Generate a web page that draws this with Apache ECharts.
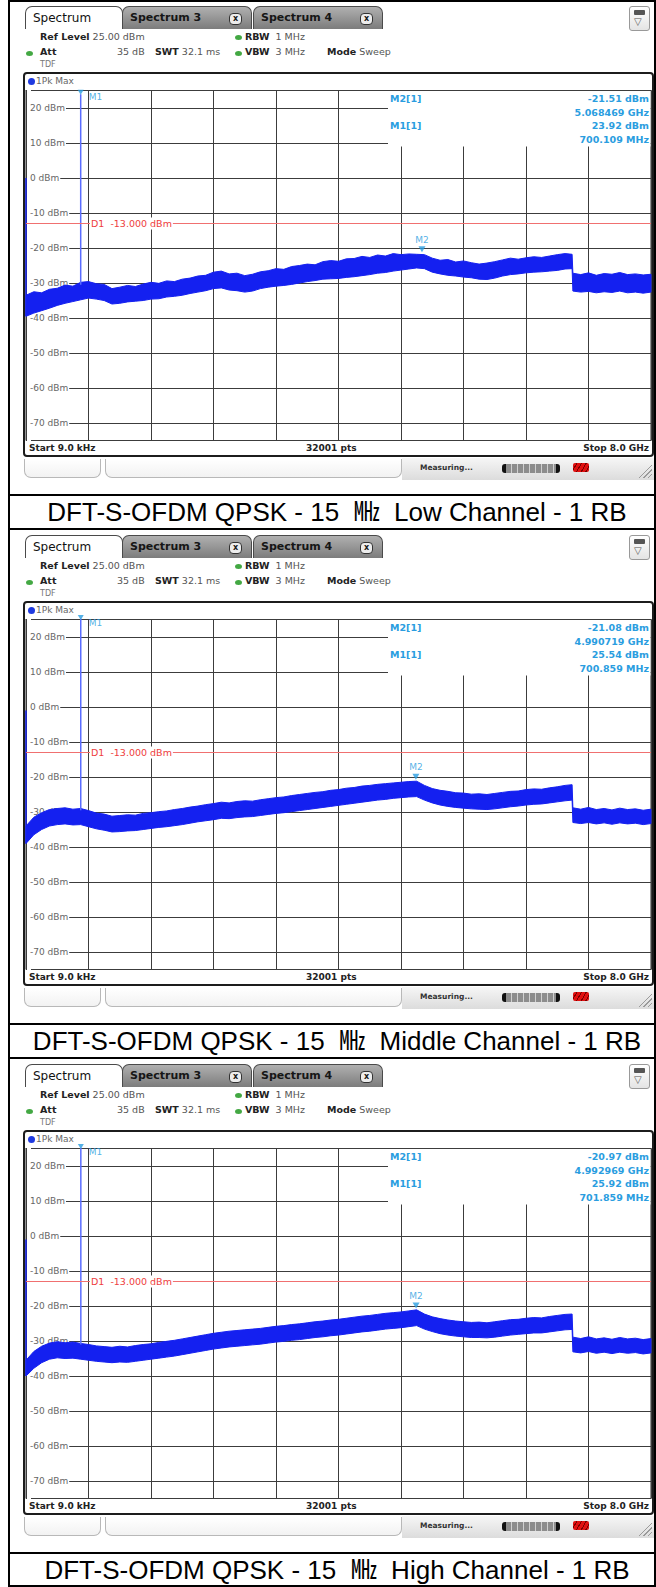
<!DOCTYPE html>
<html lang="en">
<head>
<meta charset="UTF-8">
<title>Conducted spurious emissions</title>
<script src="https://cdn.jsdelivr.net/npm/echarts@6/dist/echarts.min.js"></script>
<style>
    html, body { margin: 0; padding: 0; background: #fff; }
    #page { position: relative; width: 656px; height: 1587px; overflow: hidden; font-family: "DejaVu Sans", sans-serif; }
    #chart { position: absolute; left: 0; top: 0; width: 656px; height: 1587px; z-index: 2; }
    .panel { position: absolute; left: 0; width: 656px; height: 529px; }
    .abs { position: absolute; white-space: nowrap; }
    .tab { position: absolute; top: 6px; height: 23px; box-sizing: border-box; border: 1px solid #4a4a4a; border-bottom: none;
           border-radius: 7px 7px 0 0; line-height: 22px; font-size: 12px; padding-left: 7px; color: #111; }
    .tab.on { left: 25px; width: 98px; background: #fff; }
    .tab.off { width: 130px; background: linear-gradient(#b0b0b0, #7c7c7c); font-weight: bold; font-size: 11px; color: #161616; }
    .tab .x { position: absolute; right: 9px; top: 6px; width: 11px; height: 10px; border: 1px solid #333; border-radius: 4px;
              background: #ececec; font-size: 8px; line-height: 10px; text-align: center; font-weight: bold; }
    .menu { position: absolute; left: 629px; top: 6px; width: 21px; height: 25px; box-sizing: border-box; border: 1px solid #999;
            border-radius: 3px; background: linear-gradient(#fff, #e4e4e4); }
    .menu i { position: absolute; left: 4px; top: 3px; width: 11px; height: 5px; background: #555; border-radius: 1px; }
    .menu b { position: absolute; left: 4px; top: 9px; font-size: 10px; color: #555; font-weight: normal; }
    .info { font-size: 9.5px; color: #555; }
    .info b { color: #222; }
    .dot { position: absolute; width: 7px; height: 5px; border-radius: 50%; background: #43a843; }
    .frame { position: absolute; left: 23px; top: 72px; width: 631px; height: 385px; box-sizing: border-box;
             border: 2px solid #1c1c1c; border-radius: 4px; }
    .trbar { position: absolute; left: 25px; top: 74px; width: 627px; height: 16px; border-bottom: 1px solid #aaa;
             font-size: 9px; color: #666; line-height: 15px; }
    .trbar span { position: absolute; left: 3px; top: 4px; width: 7px; height: 7px; border-radius: 50%; background: #1f3ae0; }
    .botbar { position: absolute; left: 25px; top: 441px; width: 627px; height: 14px; font-size: 9px; font-weight: bold;
              color: #222; line-height: 14px; }
    .box { position: absolute; top: 459px; height: 19px; box-sizing: border-box; border: 1px solid #b8b8b8; border-top: none;
           border-radius: 0 0 7px 7px; background: linear-gradient(#fff, #f2f2f2); }
    .statbg { position: absolute; left: 402px; top: 458px; width: 252px; height: 22px; background: linear-gradient(#f6f6f6, #dcdcdc); }
    .prog { position: absolute; left: 502px; top: 464px; width: 58px; height: 9px; box-sizing: border-box; border-left: 4px solid #111;
            border-right: 4px solid #111; border-radius: 3px;
            background: repeating-linear-gradient(90deg, #8c8c8c 0 5px, #d0d0d0 5px 6px); }
    .red { position: absolute; left: 573px; top: 463px; width: 16px; height: 9px;
           background: repeating-linear-gradient(120deg, #e01010 0 3px, #7a0000 3px 4px); border-radius: 2px; }
    .hatch { position: absolute; left: 638px; top: 463px; width: 14px; height: 15px;
             background: repeating-linear-gradient(135deg, transparent 0 2px, #9a9a9a 2px 3px);
             clip-path: polygon(100% 0, 100% 100%, 0 100%); }
    .hline { position: absolute; left: 8px; width: 648px; height: 2px; background: #000; }
    .caption { position: absolute; left: 15px; width: 644px; top: 496px; height: 33px; text-align: center; line-height: 33px;
               font-family: "Liberation Sans", Arial, "Noto Sans CJK JP", sans-serif; font-size: 26px; color: #000; white-space: pre; }
    .vline { position: absolute; top: 0; width: 2px; height: 1587px; background: #000; z-index: 3; }
</style>
</head>
<body>
<div id="page">
    <div class="vline" style="left:8px"></div>
    <div class="vline" style="left:654px"></div>
    <div id="chart"></div>
</div>

<script>
    // captions under the three screenshots
    var captions = [
        'DFT-S-OFDM QPSK - 15  \u3392  Low Channel - 1 RB',
        'DFT-S-OFDM QPSK - 15  \u3392  Middle Channel - 1 RB',
        'DFT-S-OFDM QPSK - 15  \u3392  High Channel - 1 RB'
    ];

    // markers (GHz, dBm)
    var m1Freq = [0.700109, 0.700859, 0.701859];
    var m1Level = [23.92, 25.54, 25.92];
    var m2Freq = [5.068469, 4.990719, 4.992969];
    var m2Level = [-21.51, -21.08, -20.97];
    var d1Level = -13;

    // y-axis tick labels (dBm)
    var yTicks = [20, 10, 0, -10, -20, -30, -40, -50, -60, -70];

    // trace envelope: sample frequencies (GHz), upper and lower edge of the max-hold band (dBm)
    var freq = [0, 0.1, 0.2, 0.3, 0.4, 0.5, 0.6, 0.7, 0.8, 0.9,
        1.0, 1.1, 1.2, 1.3, 1.4, 1.5, 1.6, 1.7, 1.8, 1.9,
        2.0, 2.1, 2.2, 2.3, 2.4, 2.5, 2.6, 2.7, 2.8, 2.9,
        3.0, 3.1, 3.2, 3.3, 3.4, 3.5, 3.6, 3.7, 3.8, 3.9,
        4.0, 4.1, 4.2, 4.3, 4.4, 4.5, 4.6, 4.7, 4.8, 4.9,
        5.0, 5.1, 5.2, 5.3, 5.4, 5.5, 5.6, 5.7, 5.8, 5.9,
        6.0, 6.1, 6.2, 6.3, 6.4, 6.5, 6.6, 6.7, 6.8, 6.9,
        6.99, 7.0, 7.1, 7.2, 7.3, 7.4, 7.5, 7.6, 7.7, 7.8, 7.9, 8.0];

    var topLow = [-33.5, -32.5, -32.8, -31.8, -31.5, -30.6, -30.9, -29.8, -29.6, -30.2,
        -30.4, -31.6, -31.2, -30.7, -31.0, -30.3, -29.8, -30.1, -29.4, -29.6,
        -28.9, -28.6, -28.0, -27.8, -26.9, -26.6, -27.4, -27.2, -27.9, -27.5,
        -26.8, -26.5, -25.9, -26.1, -25.3, -25.0, -24.6, -24.8, -23.9, -23.6,
        -23.8, -23.1, -23.0, -22.4, -22.7, -22.0, -22.3, -21.6, -21.9, -21.7,
        -21.8, -21.9, -22.9, -23.5, -23.3, -24.0, -23.7, -24.2, -24.6, -24.3,
        -23.9, -23.4, -22.9, -23.2, -22.8, -22.5, -22.7, -22.3, -21.9, -21.6,
        -21.8, -27.2, -27.6, -27.1, -27.8, -27.3, -27.5, -27.0, -27.6, -27.4, -27.7, -27.5];
    var botLow = [-39.5, -38.6, -37.9, -37.2, -36.4, -35.8, -35.3, -34.8, -34.3, -34.6,
        -35.0, -36.0, -35.8, -35.4, -35.2, -35.0, -34.6, -34.5, -34.0, -33.8,
        -33.5, -33.0, -32.6, -32.2, -31.6, -31.4, -32.0, -32.2, -32.6, -32.3,
        -31.6, -31.2, -30.9, -30.7, -30.4, -30.0, -29.6, -29.3, -28.9, -28.8,
        -28.7, -28.4, -28.2, -27.9, -27.6, -27.2, -27.0, -26.6, -26.3, -26.0,
        -25.7, -25.9, -26.9, -27.4, -27.8, -28.0, -28.3, -28.5, -28.9, -29.0,
        -28.6, -28.0, -27.6, -27.4, -27.1, -26.9, -26.8, -26.6, -26.4, -26.0,
        -25.9, -32.3, -32.6, -32.4, -32.8, -32.5, -32.7, -32.3, -32.8, -32.6, -32.9, -32.6];

    var topMid = [-34.0, -31.5, -30.2, -29.3, -29.0, -28.8, -29.2, -29.0, -29.6, -30.3,
        -30.6, -31.2, -31.0, -30.8, -30.9, -30.4, -30.2, -29.9, -29.7, -29.3,
        -29.0, -28.6, -28.3, -27.9, -27.6, -27.2, -27.4, -27.0, -26.8, -26.9,
        -26.5, -26.2, -25.9, -25.7, -25.3, -25.0, -24.7, -24.4, -24.2, -23.8,
        -23.6, -23.2, -23.0, -22.6, -22.4, -22.1, -21.9, -21.7, -21.5, -21.3,
        -21.2, -22.4, -23.3, -23.8, -24.1, -24.5, -24.6, -24.9, -24.8, -25.0,
        -24.7, -24.4, -24.1, -24.0, -23.6, -23.4, -23.5, -23.1, -22.8, -22.4,
        -22.2, -28.8, -29.2, -28.7, -29.3, -29.0, -29.4, -28.9, -29.3, -29.1, -29.5, -29.2];
    var botMid = [-39.0, -36.5, -35.0, -34.0, -33.6, -33.4, -33.7, -33.6, -34.2, -34.8,
        -35.2, -35.7, -35.6, -35.4, -35.3, -35.0, -34.7, -34.4, -34.2, -33.9,
        -33.6, -33.2, -32.8, -32.5, -32.2, -31.8, -31.9, -31.6, -31.4, -31.3,
        -31.0, -30.7, -30.4, -30.2, -29.9, -29.6, -29.3, -29.0, -28.7, -28.4,
        -28.1, -27.8, -27.5, -27.2, -26.9, -26.6, -26.4, -26.1, -25.9, -25.7,
        -25.6, -26.6, -27.4, -28.0, -28.4, -28.7, -28.9, -29.1, -29.2, -29.3,
        -29.1, -28.8, -28.5, -28.3, -28.0, -27.8, -27.7, -27.4, -27.1, -26.8,
        -26.6, -33.0, -33.3, -33.0, -33.4, -33.1, -33.5, -33.1, -33.4, -33.2, -33.6, -33.3];

    var topHigh = [-35.5, -33.0, -31.5, -30.6, -30.2, -30.5, -30.3, -30.7, -31.0, -31.4,
        -31.6, -31.8, -31.5, -31.7, -31.3, -31.0, -30.8, -30.4, -30.1, -29.8,
        -29.4, -29.0, -28.6, -28.2, -27.8, -27.5, -27.2, -27.0, -26.8, -26.6,
        -26.4, -26.1, -25.8, -25.6, -25.3, -25.1, -24.8, -24.5, -24.3, -24.0,
        -23.8, -23.5, -23.2, -22.9, -22.7, -22.4, -22.1, -21.9, -21.7, -21.4,
        -21.1, -22.3, -23.1, -23.6, -24.0, -24.3, -24.5, -24.7, -24.6, -24.8,
        -24.5, -24.2, -23.9, -23.8, -23.5, -23.3, -23.4, -23.0, -22.7, -22.4,
        -22.3, -28.9, -29.3, -28.8, -29.4, -29.1, -29.5, -29.0, -29.4, -29.2, -29.6, -29.3];
    var botHigh = [-40.0, -37.8, -36.2, -35.2, -34.8, -35.0, -34.9, -35.2, -35.5, -35.8,
        -36.0, -36.2, -36.0, -36.1, -35.8, -35.5, -35.2, -34.9, -34.6, -34.3,
        -33.9, -33.5, -33.1, -32.7, -32.3, -32.0, -31.7, -31.5, -31.3, -31.1,
        -30.9, -30.6, -30.3, -30.1, -29.8, -29.6, -29.3, -29.0, -28.8, -28.5,
        -28.3, -28.0, -27.7, -27.4, -27.2, -26.9, -26.6, -26.4, -26.2, -25.9,
        -25.6, -26.6, -27.3, -27.9, -28.3, -28.6, -28.8, -29.0, -29.0, -29.1,
        -28.9, -28.6, -28.3, -28.1, -27.9, -27.7, -27.7, -27.4, -27.1, -26.8,
        -26.7, -33.1, -33.4, -33.0, -33.5, -33.2, -33.6, -33.2, -33.5, -33.3, -33.7, -33.4];

    // level of the spikes: start of sweep (9 kHz) and under marker M1
    var startSpike = [0, -1, -1];
    var spikeBase = [-30.5, -29.5, -31];

    var tops = [topLow, topMid, topHigh];
    var bots = [botLow, botMid, botHigh];

    var PANEL_H = 529;
    var GRID_LEFT = 26, GRID_TOP = 90.5, GRID_W = 625, GRID_H = 350;
    var TRACE = '#1420f0';
    var MARK = '#2a9de0';
    var GRIDLINE = '#3c3c3c';

    function panelHtml(i) {
        return '' +
            '<div class="tab on">Spectrum</div>' +
            '<div class="tab off" style="left:122px">Spectrum 3<span class="x">x</span></div>' +
            '<div class="tab off" style="left:253px">Spectrum 4<span class="x">x</span></div>' +
            '<div class="menu"><i></i><b>\u25bd</b></div>' +
            '<div class="abs info" style="left:40px;top:31px"><b>Ref Level</b>&nbsp;25.00 dBm</div>' +
            '<span class="dot" style="left:235px;top:35px"></span>' +
            '<div class="abs info" style="left:245px;top:31px"><b>RBW</b>&nbsp;&nbsp;1 MHz</div>' +
            '<span class="dot" style="left:26px;top:51px"></span>' +
            '<div class="abs info" style="left:40px;top:46px"><b>Att</b></div>' +
            '<div class="abs info" style="left:117px;top:46px">35 dB</div>' +
            '<div class="abs info" style="left:155px;top:46px"><b>SWT</b>&nbsp;32.1 ms</div>' +
            '<span class="dot" style="left:235px;top:51px"></span>' +
            '<div class="abs info" style="left:245px;top:46px"><b>VBW</b>&nbsp;&nbsp;3 MHz</div>' +
            '<div class="abs info" style="left:327px;top:46px"><b>Mode</b>&nbsp;Sweep</div>' +
            '<div class="abs info" style="left:40px;top:60px;font-size:8px;color:#777">TDF</div>' +
            '<div class="frame"></div>' +
            '<div class="trbar"><span></span><em style="position:absolute;left:11px;font-style:normal">1Pk Max</em></div>' +
            '<div class="botbar"><span class="abs" style="left:4px">Start 9.0 kHz</span>' +
            '<span class="abs" style="left:281px">32001 pts</span>' +
            '<span class="abs" style="right:3px">Stop 8.0 GHz</span></div>' +
            '<div class="box" style="left:24px;width:77px"></div>' +
            '<div class="box" style="left:105px;width:297px"></div>' +
            '<div class="statbg"></div>' +
            '<div class="abs" style="left:420px;top:463px;font-size:7.5px;font-weight:bold;color:#333">Measuring...</div>' +
            '<div class="prog"></div><div class="red"></div><div class="hatch"></div>' +
            '<div class="hline" style="top:494px"></div>' +
            (i === 0 ? '<div class="hline" style="top:0"></div>' : '') +
            '<div class="hline" style="top:' + (i === 2 ? 527 : 528) + 'px"></div>' +
            '<div class="caption">' + captions[i] + '</div>';
    }

    var page = document.getElementById('page');
    for (var i = 0; i < 3; i++) {
        var p = document.createElement('div');
        p.className = 'panel';
        p.style.top = (i * PANEL_H) + 'px';
        p.innerHTML = panelHtml(i);
        page.insertBefore(p, document.getElementById('chart'));
    }

    var myChart = echarts.init(document.getElementById('chart'), null, {renderer: 'svg'});

    // the max-hold band: polygon along the upper edge and back along the lower edge
    function bandRenderer(k) {
        return function (params, api) {
            var pts = [];
            for (var j = 0; j < freq.length; j++) {
                pts.push(api.coord([freq[j], tops[k][j]]));
            }
            for (var j2 = freq.length - 1; j2 >= 0; j2--) {
                pts.push(api.coord([freq[j2], bots[k][j2]]));
            }
            return {
                type: 'polygon', silent: true,
                shape: {points: pts},
                style: {fill: TRACE, stroke: TRACE, lineWidth: 1}
            };
        };
    }

    var grids = [], xAxes = [], yAxes = [], series = [];
    for (var k = 0; k < 3; k++) {
        grids.push({
            left: GRID_LEFT, top: GRID_TOP + k * PANEL_H, width: GRID_W, height: GRID_H,
            show: true, borderColor: '#2a2a2a', borderWidth: 1, backgroundColor: 'transparent'
        });
        xAxes.push({
            type: 'value', gridIndex: k, min: 0, max: 8, interval: 0.8,
            axisLine: {show: false}, axisTick: {show: false}, axisLabel: {show: false},
            splitLine: {show: true, lineStyle: {color: GRIDLINE, width: 1}}
        });
        yAxes.push({
            type: 'value', gridIndex: k, min: -75, max: 25, splitNumber: 10,
            axisLine: {show: false}, axisTick: {show: false},
            axisLabel: {
                inside: true, margin: 1, color: '#666', fontSize: 9, fontFamily: 'DejaVu Sans',
                backgroundColor: '#fff', padding: [1, 1, 1, 3],
                formatter: function (v) { return yTicks.indexOf(v) >= 0 ? v + ' dBm' : ''; }
            },
            splitLine: {show: true, lineStyle: {color: GRIDLINE, width: 1}}
        });

        series.push({
            type: 'custom', xAxisIndex: k, yAxisIndex: k, silent: true, z: 3,
            data: [[4, -30]],
            renderItem: bandRenderer(k)
        });
        // spike at the start of the sweep, with the display line D1
        series.push({
            type: 'line', xAxisIndex: k, yAxisIndex: k, symbol: 'none', silent: true, z: 3, clip: false,
            data: [[0.000009, bots[k][0]], [0.000009, startSpike[k]]],
            lineStyle: {color: TRACE, width: 1.5},
            markLine: {
                silent: true, symbol: 'none', animation: false,
                data: [{yAxis: d1Level}],
                lineStyle: {color: '#f07070', width: 1, type: 'solid'},
                label: {show: false}
            }
        });
        // carrier under M1
        series.push({
            type: 'line', xAxisIndex: k, yAxisIndex: k, symbol: 'none', silent: true, z: 3,
            data: [[m1Freq[k], spikeBase[k]], [m1Freq[k], m1Level[k]]],
            lineStyle: {color: '#5a6cff', width: 1.5}
        });
        // marker symbols
        series.push({
            type: 'scatter', xAxisIndex: k, yAxisIndex: k, silent: true, z: 4, clip: false,
            symbol: 'triangle', symbolRotate: 180, symbolSize: [7, 6], symbolOffset: [0, -4],
            itemStyle: {color: MARK},
            data: [[m2Freq[k], m2Level[k]]],
            label: {show: true, position: 'top', distance: 2, formatter: 'M2', color: MARK, fontSize: 9, fontFamily: 'DejaVu Sans'}
        });
        series.push({
            type: 'scatter', xAxisIndex: k, yAxisIndex: k, silent: true, z: 4, clip: false,
            symbol: 'triangle', symbolRotate: 180, symbolSize: [6, 5], symbolOffset: [0, -2],
            itemStyle: {color: MARK},
            data: [[m1Freq[k], Math.min(m1Level[k], 25)]],
            label: {show: true, position: 'right', distance: 5, offset: [0, 5], formatter: 'M1', color: MARK, fontSize: 9, fontFamily: 'DejaVu Sans'}
        });
    }

    myChart.setOption({
        animation: false,
        grid: grids,
        xAxis: xAxes,
        yAxis: yAxes,
        series: series
    });

    // marker table in the upper right corner of each diagram and the display line label
    var graphics = [];
    function txt(x, y, s, align, color, bold) {
        graphics.push({
            type: 'text', x: x, y: y, z: 20, silent: true,
            style: {
                text: s, fill: color, textAlign: align, textVerticalAlign: 'middle',
                font: (bold ? 'bold ' : '') + '9.5px "DejaVu Sans"'
            }
        });
    }
    for (var n = 0; n < 3; n++) {
        var base = n * PANEL_H;
        graphics.push({
            type: 'rect', z: 19, silent: true,
            shape: {x: 388, y: base + GRID_TOP + 0.5, width: GRID_LEFT + GRID_W - 388 - 0.5, height: 55.5},
            style: {fill: '#fff'}
        });
        txt(390, base + 98, 'M2[1]', 'left', MARK, true);
        txt(649, base + 98, m2Level[n].toFixed(2) + ' dBm', 'right', MARK, true);
        txt(649, base + 112, m2Freq[n].toFixed(6) + ' GHz', 'right', MARK, true);
        txt(390, base + 125.5, 'M1[1]', 'left', MARK, true);
        txt(649, base + 125.5, m1Level[n].toFixed(2) + ' dBm', 'right', MARK, true);
        txt(649, base + 139, (m1Freq[n] * 1000).toFixed(3) + ' MHz', 'right', MARK, true);

        var d1y = myChart.convertToPixel({yAxisIndex: n}, d1Level);
        graphics.push({
            type: 'text', x: 90, y: d1y, z: 20, silent: true,
            style: {
                text: 'D1  -13.000 dBm', fill: '#ee4040', textAlign: 'left', textVerticalAlign: 'middle',
                font: '9.5px "DejaVu Sans"', backgroundColor: '#fff', padding: [1, 1]
            }
        });
    }
    myChart.setOption({graphic: graphics});
</script>
</body>
</html>
